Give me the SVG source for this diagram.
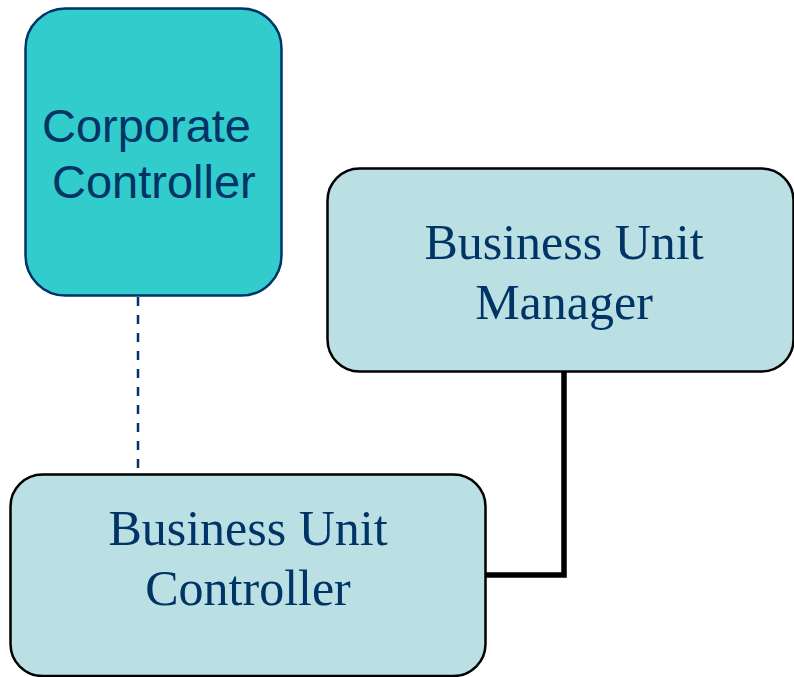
<svg xmlns="http://www.w3.org/2000/svg" width="794" height="677" viewBox="0 0 794 677">
<style>
.sans{font-family:"Liberation Sans",Arial,sans-serif;font-size:47px;fill:#003366}
.serif{font-family:"Liberation Serif","Times New Roman",serif;font-size:50px;fill:#003366;text-anchor:middle}
.light{fill:#BAE0E3;stroke:#000;stroke-width:2.5}
</style>
<rect width="794" height="677" fill="#fff"/>
<g id="connectors">
<line x1="138" y1="297" x2="138" y2="474" stroke="#003366" stroke-width="2.5" stroke-dasharray="9,9"/>
<polyline points="564,372 564,575 486,575" fill="none" stroke="#000" stroke-width="5.5"/>
</g>
<g id="corporate-controller">
<rect x="25.5" y="8.5" width="256" height="287" rx="40" fill="#33CCCC" stroke="#003366" stroke-width="2.5"/>
<text class="sans" x="42" y="142">Corporate</text>
<text class="sans" x="52" y="198">Controller</text>
</g>
<g id="business-unit-manager">
<rect class="light" x="327.5" y="168.5" width="466" height="203" rx="32"/>
<text class="serif" x="564" y="259">Business Unit</text>
<text class="serif" x="564" y="319">Manager</text>
</g>
<g id="business-unit-controller">
<rect class="light" x="10.5" y="474.5" width="475" height="201.5" rx="32"/>
<text class="serif" x="248" y="545">Business Unit</text>
<text class="serif" x="248" y="605">Controller</text>
</g>
</svg>
